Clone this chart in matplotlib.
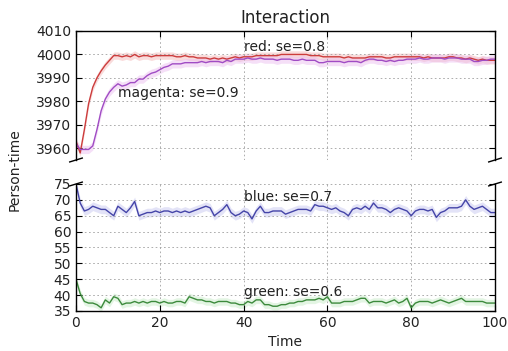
import matplotlib
matplotlib.use("Agg")
import matplotlib.pyplot as plt
import numpy as np

time = list(range(101))

red = [3963, 3958, 3968, 3979, 3986, 3990, 3993, 3995.5, 3997.5, 3999.5,
       3999.5, 3999, 3999.5, 3999, 4000, 3999, 3999.5, 3999.5, 3999, 3999.5,
       3999.5, 3999.5, 3999.5, 3999.5, 3999, 3999, 3999.5, 3999, 3999, 3998.5,
       3998.5, 3998.5, 3998, 3998.5, 3998, 3998.5, 3998, 3998.5, 3999, 3998.5,
       3999, 3999, 3999, 3999.5, 3999.5, 3999.5, 3999.5, 3999.5, 3999.5, 4000,
       4000, 4000, 4000, 4000, 4000, 4000, 3999.5, 3999.5, 3999.5, 3999,
       3999, 3999, 3999, 3999, 3998.5, 3999, 3998.5, 3998.5, 3998.5, 3998.5,
       3999, 3999, 3999, 3999, 3998.5, 3998.5, 3999, 3999, 3999, 3999,
       3999, 3999, 3999, 3998.5, 3999, 3998.5, 3998.5, 3998.5, 3998.5, 3999,
       3999, 3998.5, 3998.5, 3998, 3998.5, 3998, 3997.5, 3998, 3997.5, 3997.5,
       3997.5]

magenta = [3962, 3959.5, 3959.5, 3959.5, 3961, 3968, 3976, 3981, 3984, 3986,
           3987.5, 3986.5, 3987, 3988, 3988, 3989.5, 3989.5, 3991, 3992, 3992.5,
           3993.5, 3994.5, 3995, 3996, 3996, 3996, 3996.5, 3996.5, 3996.5, 3996.5,
           3997, 3996.5, 3997, 3997, 3997, 3996.5, 3997.5, 3997, 3998, 3998,
           3998, 3998.5, 3998, 3998, 3998.5, 3998, 3998, 3998, 3997.5, 3998,
           3998, 3998, 3997.5, 3997.5, 3998, 3997.5, 3997.5, 3997.5, 3996.5, 3996.5,
           3997, 3997, 3997, 3997, 3996.5, 3997, 3997, 3997, 3996.5, 3997.5,
           3998, 3998, 3997.5, 3997.5, 3997, 3997.5, 3997, 3997.5, 3997.5, 3998,
           3998, 3998, 3998.5, 3998, 3998, 3998.5, 3998.5, 3998.5, 3998, 3998.5,
           3998.5, 3998.5, 3998, 3998, 3998, 3997, 3997, 3997.5, 3997.5, 3998,
           3998]

blue = [75, 69, 66.5, 67, 68, 67.5, 67, 67, 66, 65,
        68, 67, 66, 67.5, 69.5, 65, 65.5, 66, 66, 66.5,
        66, 66.5, 66.5, 66, 66.5, 66, 66.5, 66, 66.5, 67,
        67.5, 68, 67.5, 65, 66, 67, 68.5, 66, 65, 65.5,
        66.5, 66, 64, 66.5, 68, 66, 66, 66.5, 66.5, 66.5,
        65.5, 66, 66.5, 67, 67, 67, 66.5, 68.5, 68, 68,
        67.5, 67, 67.5, 66.5, 66, 65, 67, 67.5, 67, 68,
        67, 69, 67.5, 67.5, 67, 66, 67, 67.5, 67, 66.5,
        65, 66.5, 67, 67, 66.5, 67, 64.5, 66, 66.5, 67.5,
        67.5, 67.5, 68, 70, 68, 67, 67.5, 68, 67, 66,
        66]

green = [45, 40.5, 38, 37.5, 37.5, 37, 36, 38.5, 37.5, 39.5,
         39, 37, 37.5, 37.5, 38, 37.5, 38, 37.5, 38, 38,
         37.5, 38, 37.5, 37.5, 38, 38, 37.5, 39.5, 39, 38.5,
         38.5, 38, 38, 37.5, 38, 38, 38, 37.5, 37.5, 37,
         37, 38, 37.5, 38.5, 38.5, 37, 37, 36.5, 36.5, 37,
         37, 37.5, 37.5, 38, 38, 38.5, 38.5, 38.5, 39, 38.5,
         39.5, 37.5, 37.5, 37.5, 38, 38, 38, 38.5, 39, 39,
         37.5, 38, 38, 38, 37.5, 38, 38.5, 37.5, 38, 39,
         36, 37.5, 38, 38, 38, 37.5, 38, 38.5, 38, 37.5,
         38, 38.5, 39, 38, 38, 38, 38, 38, 37.5, 37.5,
         37.5]

se = {"red": 0.8, "magenta": 0.9, "blue": 0.7, "green": 0.6}

line_colors = {"red": "#cc3c3c", "magenta": "#a04cc4", "blue": "#4444a8", "green": "#3c8a3c"}
fill_colors = {"red": "#f4b8b8", "magenta": "#ecc0f0", "blue": "#c8c8f0", "green": "#c8ecc8"}

W, H = 508, 351
fig = plt.figure(figsize=(W / 100, H / 100), dpi=100)
fig.patch.set_facecolor("white")

left = 76 / W
width = (495 - 76) / W
ax1 = fig.add_axes([left, (H - 160) / H, width, (160 - 31) / H])
ax2 = fig.add_axes([left, (H - 311) / H, width, (311 - 184) / H])

t = np.array(time)
series = {"red": red, "magenta": magenta, "blue": blue, "green": green}
for ax, names in ((ax1, ["red", "magenta"]), (ax2, ["blue", "green"])):
    for name in names:
        y = np.array(series[name])
        band = 1.96 * se[name]
        ax.fill_between(t, y - band, y + band, color=fill_colors[name], alpha=0.5, lw=0)
    for name in names:
        ax.plot(t, series[name], color=line_colors[name], lw=1.0)

ax1.set_ylim(3955, 4010)
ax2.set_ylim(35, 75)
for ax in (ax1, ax2):
    ax.set_xlim(0, 100)
    ax.set_xticks([0, 20, 40, 60, 80, 100])
    ax.grid(True, color="#a0a0a0", linestyle=(0, (2, 3)), lw=0.6)
    ax.tick_params(direction="in", labelsize=10, length=4, top=True, right=True,
                   labelcolor="#222222")
    for s in ax.spines.values():
        s.set_linewidth(1.0)

ax1.set_yticks([3960, 3970, 3980, 3990, 4000, 4010])
ax2.set_yticks([35, 40, 45, 50, 55, 60, 65, 70, 75])
ax1.spines["bottom"].set_visible(False)
ax2.spines["top"].set_visible(False)
ax1.tick_params(labelbottom=False, bottom=False)
ax2.tick_params(top=False)

d = 0.015
kw = dict(transform=ax1.transAxes, color="k", clip_on=False, lw=1.0)
ax1.plot((-d, +d), (-d, +d), **kw)
ax1.plot((1 - d, 1 + d), (-d, +d), **kw)
kw.update(transform=ax2.transAxes)
ax2.plot((-d, +d), (1 - d, 1 + d), **kw)
ax2.plot((1 - d, 1 + d), (1 - d, 1 + d), **kw)

tc = "#222222"
ax1.text(40, 4001.5, "red: se=0.8", fontsize=10, color=tc)
ax1.text(10, 3982, "magenta: se=0.9", fontsize=10, color=tc)
ax2.text(40, 69.8, "blue: se=0.7", fontsize=10, color=tc)
ax2.text(40, 39.8, "green: se=0.6", fontsize=10, color=tc)

ax1.set_title("Interaction", fontsize=12, color=tc)
ax2.set_xlabel("Time", fontsize=10, color=tc)
fig.text(15 / W, (H - 170) / H, "Person-time", rotation=90, ha="center", va="center",
         fontsize=10, color=tc)

fig.savefig("out.png", dpi=100, facecolor="white")
